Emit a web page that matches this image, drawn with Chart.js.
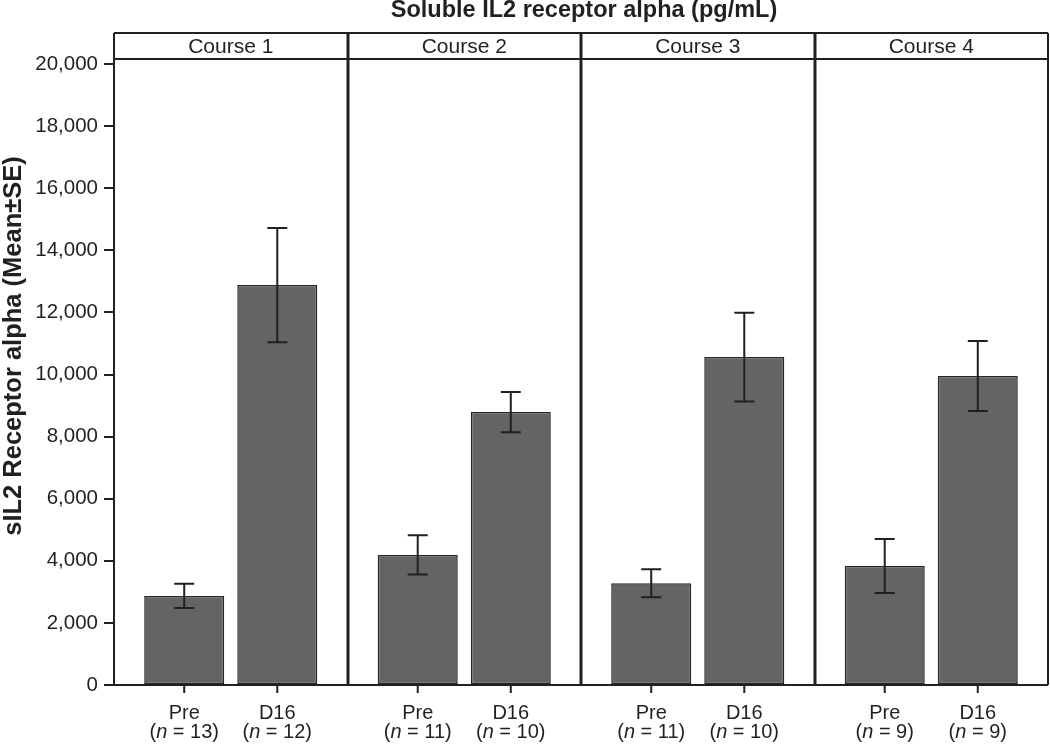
<!DOCTYPE html>
<html>
<head>
<meta charset="utf-8">
<script src="https://cdn.jsdelivr.net/npm/chart.js@4"></script>
<style>
  body { margin: 0; background: #fff; }
  #wrap { width: 1050px; height: 744px; }
</style>
</head>
<body>
<div id="wrap"><canvas id="barChart"></canvas></div>
<script>
var courses = ['Course 1', 'Course 2', 'Course 3', 'Course 4'];
var groups = ['Pre', 'D16'];
var preMean = [2870, 4190, 3280, 3830];
var preSE = [390, 630, 450, 870];
var d16Mean = [12880, 8790, 10560, 9950];
var d16SE = [1840, 650, 1430, 1125];
var preN = [13, 11, 11, 9];
var d16N = [12, 10, 10, 9];
var yTicks = [0, 2000, 4000, 6000, 8000, 10000, 12000, 14000, 16000, 18000, 20000];

var ink = '#231f20';
var barFill = '#636466';
var font = '"Liberation Sans", Arial, Helvetica, sans-serif';
Chart.defaults.font.family = font;

var means = [preMean, d16Mean];
var ses = [preSE, d16SE];
var ns = [preN, d16N];

// error bars, panel frame, strip headers, titles and the two-line bar labels
var panelPlugin = {
    id: 'panels',
    afterDatasetsDraw: function (chart) {
        var ctx = chart.ctx, y = chart.scales.y;
        ctx.save();
        ctx.strokeStyle = ink;
        ctx.lineWidth = 2;
        for (var d = 0; d < 2; d++) {
            chart.getDatasetMeta(d).data.forEach(function (bar, i) {
                var hi = y.getPixelForValue(means[d][i] + ses[d][i]);
                var lo = y.getPixelForValue(means[d][i] - ses[d][i]);
                ctx.beginPath();
                ctx.moveTo(bar.x, hi); ctx.lineTo(bar.x, lo);
                ctx.moveTo(bar.x - 10, hi); ctx.lineTo(bar.x + 10, hi);
                ctx.moveTo(bar.x - 10, lo); ctx.lineTo(bar.x + 10, lo);
                ctx.stroke();
            });
        }
        ctx.restore();
    },
    afterDraw: function (chart) {
        var ctx = chart.ctx, a = chart.chartArea, x = chart.scales.x;
        var stripTop = 33, stripBottom = 59;
        ctx.save();
        ctx.strokeStyle = ink;

        // outer frame and strip
        ctx.lineWidth = 2;
        ctx.beginPath();
        ctx.moveTo(a.left, stripTop); ctx.lineTo(a.right, stripTop);
        ctx.moveTo(a.left, stripBottom); ctx.lineTo(a.right, stripBottom);
        ctx.moveTo(a.left, stripTop); ctx.lineTo(a.left, a.bottom);
        ctx.moveTo(a.right, stripTop); ctx.lineTo(a.right, a.bottom);
        ctx.moveTo(a.left - 10, a.bottom); ctx.lineTo(a.right, a.bottom);
        ctx.stroke();

        // panel dividers
        ctx.lineWidth = 3;
        ctx.beginPath();
        for (var i = 1; i < courses.length; i++) {
            var px = Math.round(x.getPixelForValue(i - 0.5));
            ctx.moveTo(px, stripTop); ctx.lineTo(px, a.bottom);
        }
        ctx.stroke();

        // strip text
        ctx.fillStyle = ink;
        ctx.textAlign = 'center';
        ctx.textBaseline = 'alphabetic';
        ctx.font = '21px ' + font;
        courses.forEach(function (c, i) {
            ctx.fillText(c, x.getPixelForValue(i), 53);
        });

        // main title
        ctx.font = 'bold 23.5px ' + font;
        ctx.fillText('Soluble IL2 receptor alpha (pg/mL)', (a.left + a.right) / 2 + 3, 17);

        // y axis title
        ctx.save();
        ctx.translate(21, 346);
        ctx.rotate(-Math.PI / 2);
        ctx.font = 'bold 25.5px ' + font;
        ctx.fillText('sIL2 Receptor alpha (Mean\u00b1SE)', 0, 0);
        ctx.restore();

        // bar ticks and labels
        ctx.lineWidth = 2;
        for (var d = 0; d < 2; d++) {
            chart.getDatasetMeta(d).data.forEach(function (bar, i) {
                ctx.beginPath();
                ctx.moveTo(bar.x, a.bottom); ctx.lineTo(bar.x, a.bottom + 8);
                ctx.stroke();
                ctx.font = '20px ' + font;
                ctx.textAlign = 'center';
                ctx.fillText(groups[d], bar.x, a.bottom + 34);
                var parts = [['(', false], ['n', true], [' = ' + ns[d][i] + ')', false]];
                var w = 0;
                parts.forEach(function (p) {
                    ctx.font = (p[1] ? 'italic ' : '') + '20px ' + font;
                    w += ctx.measureText(p[0]).width;
                });
                var cx = bar.x - w / 2;
                ctx.textAlign = 'left';
                parts.forEach(function (p) {
                    ctx.font = (p[1] ? 'italic ' : '') + '20px ' + font;
                    ctx.fillText(p[0], cx, a.bottom + 53);
                    cx += ctx.measureText(p[0]).width;
                });
            });
        }
        ctx.restore();
    }
};

var ctx = document.getElementById('barChart').getContext('2d');
var myChart = new Chart(ctx, {
    type: 'bar',
    data: {
        labels: courses,
        datasets: [{
            label: groups[0],
            data: preMean,
            backgroundColor: barFill,
            borderColor: '#262626',
            borderWidth: 1.5,
            borderSkipped: false
        }, {
            label: groups[1],
            data: d16Mean,
            backgroundColor: barFill,
            borderColor: '#262626',
            borderWidth: 1.5,
            borderSkipped: false
        }]
    },
    options: {
        responsive: true,
        maintainAspectRatio: false,
        animation: false,
        layout: { padding: { top: 64, bottom: 59, left: 0, right: 2 } },
        categoryPercentage: 0.797,
        barPercentage: 0.86,
        plugins: {
            legend: { display: false },
            tooltip: { enabled: false }
        },
        scales: {
            x: { display: false },
            y: {
                min: 0,
                max: 20000,
                afterBuildTicks: function (axis) {
                    axis.ticks = yTicks.map(function (v) { return { value: v }; });
                },
                afterFit: function (axis) { axis.width = 114; },
                border: { display: true, color: ink, width: 2 },
                grid: { drawOnChartArea: false, color: ink, lineWidth: 2, tickLength: 10 },
                ticks: {
                    color: ink,
                    padding: 6,
                    font: { size: 20.5 },
                    callback: function (v) { return v.toLocaleString('en-US'); }
                }
            }
        }
    },
    plugins: [panelPlugin]
});
</script>
</body>
</html>
